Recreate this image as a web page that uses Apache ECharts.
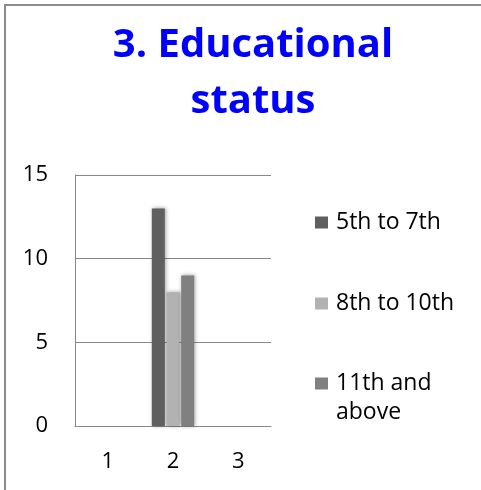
<!DOCTYPE html>
<html>
<head>
<meta charset="utf-8">
<script src="https://cdn.jsdelivr.net/npm/echarts@6/dist/echarts.min.js"></script>
<style>
html,body{margin:0;padding:0;background:#fff;}
#chart{width:481px;height:490px;}
</style>
</head>
<body>
<div id="chart"></div>
<script>
var titleText = '3. Educational\nstatus';
var categories = ['1', '2', '3'];
var seriesNames = ['5th to 7th', '8th to 10th', '11th and above'];
var s1 = [null, 13, null];
var s2 = [null, 8, null];
var s3 = [null, 9, null];
var yMin = 0, yMax = 15, yInterval = 5;

var FONT = 'Open Sans';
var colors = ['#5f5f5f', '#b2b2b2', '#808080'];
var chart = echarts.init(document.getElementById('chart'));

function fmt(n) {
  if (n === '11th and above') return '\n{a|11th and}\n{a|above}';
  return '{a|' + n + '}';
}

function legendFor(name, top) {
  return {
    orient: 'vertical', left: 315, top: top, padding: 0,
    itemWidth: 13, itemHeight: 12, itemGap: 0, icon: 'rect',
    data: [name],
    formatter: fmt,
    textStyle: {
      fontFamily: FONT, fontSize: 23, color: '#000', lineHeight: 29,
      rich: { a: { fontFamily: FONT, fontSize: 23, color: '#000', lineHeight: 29, padding: [0, 0, 0, 3] } }
    }
  };
}

function barSeries(name, data, color) {
  return {
    name: name, type: 'bar', data: data, barWidth: 13, barGap: '13%',
    itemStyle: { color: color, shadowBlur: 4, shadowColor: 'rgba(0,0,0,0.35)', shadowOffsetX: 1, shadowOffsetY: 0 }
  };
}

chart.setOption({
  animation: false,
  backgroundColor: '#fff',
  color: colors,
  title: {
    text: titleText, left: 248, top: 13, textAlign: 'center',
    textStyle: { fontFamily: FONT, fontSize: 40, fontWeight: 'bold', color: '#0000ff', lineHeight: 56 }
  },
  graphic: [{
    type: 'rect', shape: { x: 5, y: 5, width: 600, height: 600 },
    style: { fill: 'none', stroke: '#8c8c8c', lineWidth: 2 }, silent: true
  }],
  legend: [
    legendFor(seriesNames[0], 208),
    legendFor(seriesNames[1], 289),
    legendFor(seriesNames[2], 340)
  ],
  grid: { left: 75, right: 210, top: 175, bottom: 64 },
  xAxis: {
    type: 'category', data: categories,
    axisLine: { lineStyle: { color: '#888', width: 1 } },
    axisTick: { show: false },
    axisLabel: { fontFamily: FONT, fontSize: 22, color: '#000', margin: 25 }
  },
  yAxis: {
    type: 'value', min: yMin, max: yMax, interval: yInterval,
    axisLine: { show: true, lineStyle: { color: '#888', width: 1 } },
    axisTick: { show: false },
    splitLine: { lineStyle: { color: '#888', width: 1 } },
    axisLabel: { fontFamily: FONT, fontSize: 22, color: '#000', margin: 27 }
  },
  series: [
    barSeries(seriesNames[0], s1, colors[0]),
    barSeries(seriesNames[1], s2, colors[1]),
    barSeries(seriesNames[2], s3, colors[2])
  ]
});
</script>
</body>
</html>
